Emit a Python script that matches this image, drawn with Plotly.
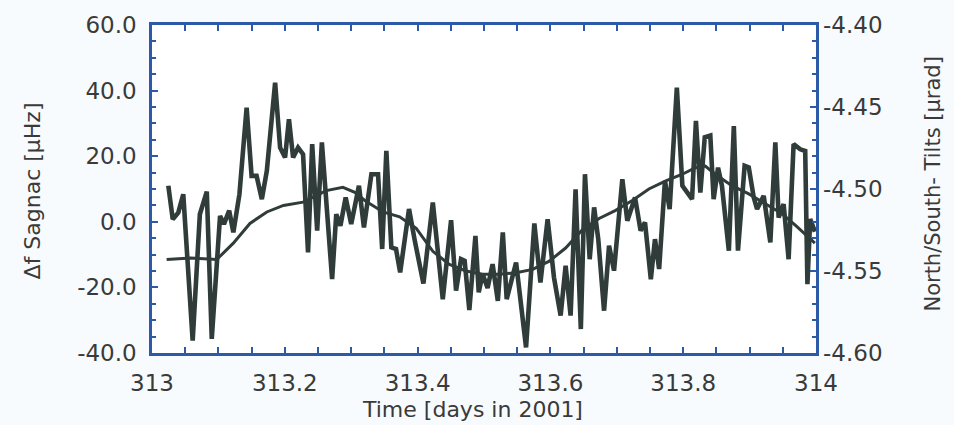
import plotly.graph_objects as go

# Sagnac frequency residual (µHz) vs time in hours after start of day 313
sagnac_hours = [0.59, 0.75, 0.95, 1.13, 1.47, 1.73, 1.98, 2.16, 2.46, 2.60, 2.79, 2.94,
                3.16, 3.42, 3.60, 3.78, 3.97, 4.15, 4.45, 4.63, 4.81, 4.95, 5.10, 5.28,
                5.46, 5.64, 5.79, 5.97, 6.14, 6.51, 6.66, 6.81, 7.00, 7.20, 7.48, 7.66,
                7.93, 8.17, 8.32, 8.47, 8.65, 8.82, 8.97, 9.29, 9.50, 9.81, 10.15, 10.51,
                10.81, 10.99, 11.17, 11.30, 11.47, 11.69, 11.81, 11.95, 12.13, 12.31, 12.50,
                12.68, 12.82, 13.16, 13.52, 13.82, 14.04, 14.30, 14.53, 14.77, 14.95, 15.13,
                15.31, 15.50, 15.65, 15.82, 15.98, 16.13, 16.34, 16.52, 16.70, 17.00, 17.18,
                17.46, 17.66, 17.82, 18.03, 18.18, 18.33, 18.54, 18.71, 18.97, 19.17, 19.34,
                19.52, 19.66, 19.82, 19.98, 20.18, 20.30, 20.46, 20.60, 20.85, 21.03, 21.18,
                21.42, 21.57, 21.75, 21.87, 22.11, 22.35, 22.53, 22.65, 22.83, 23.01, 23.19,
                23.43, 23.61, 23.69, 23.79, 23.96]
sagnac_uhz = [11.0, 0.8, 2.8, 8.4, -36.2, 2.3, 9.2, -35.7, 1.8, -0.7, 3.4, -3.2,
              8.4, 34.8, 14.0, 14.0, 6.9, 15.5, 42.4, 22.6, 19.6, 31.3, 19.6, 22.6,
              20.6, -9.3, 23.7, -2.7, 24.2, -17.5, 2.3, -1.2, 7.4, -0.7, 11.0, -1.7,
              14.5, 14.5, -8.3, 21.6, -7.8, -8.3, -15.4, 3.9, -5.8, -18.8, 5.9, -23.6,
              0.5, -21.0, -11.4, -11.9, -26.9, -4.3, -21.5, -15.9, -20.2, -12.9, -24.1,
              -3.2, -23.6, -12.4, -38.3, -0.5, -18.5, 0.8, -17.0, -28.6, -13.4, -28.6,
              9.9, -32.7, 14.5, -11.4, 4.4, -5.3, -27.1, -7.3, -14.9, 13.0, 0.3,
              7.4, -2.7, -0.2, -17.5, -5.3, -14.4, 12.5, 3.9, 40.9, 11.0, 8.9,
              6.9, 30.8, 8.9, 25.8, 26.3, 6.9, 16.5, 11.0, -8.8, 29.2, -8.8,
              17.1, 16.6, 7.4, 3.9, 7.9, -6.3, 24.2, 1.3, 5.4, -11.4, 23.7,
              22.1, 21.6, -19.0, 0.8, -3.0]

# North/South tilt (µrad), smooth curve
tilt_hours = [0.53, 1.40, 2.34, 2.94, 3.54, 4.15, 4.75, 5.46, 6.30, 6.90, 7.33, 7.69, 8.35,
              8.95, 9.55, 10.15, 10.75, 11.35, 11.95, 12.55, 13.16, 13.76, 14.36, 14.95,
              15.55, 16.16, 16.76, 17.36, 17.96, 18.57, 19.17, 19.64, 20.00, 20.36, 20.96,
              21.57, 22.17, 22.77, 23.25, 23.74, 23.96]
tilt_urad = [-4.543, -4.542, -4.543, -4.533, -4.521, -4.514, -4.510, -4.508, -4.501, -4.499,
             -4.502, -4.507, -4.514, -4.517, -4.524, -4.538, -4.546, -4.550, -4.552,
             -4.552, -4.551, -4.549, -4.544, -4.536, -4.525, -4.518, -4.513, -4.507,
             -4.500, -4.495, -4.491, -4.487, -4.486, -4.491, -4.498, -4.503, -4.509,
             -4.515, -4.522, -4.530, -4.533]

day_start = 313
x_ticks = [313, 313.2, 313.4, 313.6, 313.8, 314]
x_ticktext = ["313", "313.2", "313.4", "313.6", "313.8", "314"]
y_ticks = [-40, -20, 0, 20, 40, 60]
y_ticktext = ["-40.0", "-20.0", "0.0", "20.0", "40.0", "60.0"]
y2_ticks = [-4.60, -4.55, -4.50, -4.45, -4.40]
y2_ticktext = ["-4.60", "-4.55", "-4.50", "-4.45", "-4.40"]

t_sagnac = [day_start + h / 24 for h in sagnac_hours]
t_tilt = [day_start + h / 24 for h in tilt_hours]

BLUE = "#2c5aa6"
LINE = "#2f3c39"
TXT = "#3a3a3a"
FONT = "DejaVu Sans"

fig = go.Figure()
fig.add_trace(go.Scatter(x=t_sagnac, y=sagnac_uhz, mode="lines",
                         line=dict(color=LINE, width=4.6), yaxis="y",
                         showlegend=False))
fig.add_trace(go.Scatter(x=t_tilt, y=tilt_urad, mode="lines",
                         line=dict(color=LINE, width=3.0), yaxis="y2",
                         showlegend=False))

fig.update_layout(
    width=954, height=425,
    margin=dict(l=152, r=138, t=22, b=72),
    paper_bgcolor="#f8fbfd",
    plot_bgcolor="#ffffff",
    font=dict(family=FONT, size=23, color=TXT),
    xaxis=dict(range=[313, 314], tickmode="array", tickvals=x_ticks, ticktext=x_ticktext,
               ticks="inside", ticklen=6, tickwidth=2, tickcolor=BLUE,
               minor=dict(tick0=313, dtick=0.05, ticks="inside", ticklen=4, tickwidth=1.5,
                          tickcolor=BLUE),
               showline=True, linecolor=BLUE, linewidth=2.5, mirror="allticks",
               showgrid=False, zeroline=False, ticklabelstandoff=8,
               tickfont=dict(size=23, color=TXT)),
    yaxis=dict(range=[-40, 60], tickmode="array", tickvals=y_ticks, ticktext=y_ticktext,
               ticks="inside", ticklen=6, tickwidth=2, tickcolor=BLUE,
               minor=dict(tick0=0, dtick=5, ticks="inside", ticklen=4, tickwidth=1.5,
                          tickcolor=BLUE),
               showline=True, linecolor=BLUE, linewidth=2.5, mirror=True,
               showgrid=False, zeroline=False, ticklabelstandoff=8,
               tickfont=dict(size=23, color=TXT)),
    yaxis2=dict(range=[-4.60, -4.40], overlaying="y", side="right", tickmode="array",
                tickvals=y2_ticks, ticktext=y2_ticktext,
                ticks="inside", ticklen=6, tickwidth=2, tickcolor=BLUE,
                minor=dict(tick0=-4.6, dtick=0.01, ticks="inside", ticklen=4, tickwidth=1.5,
                           tickcolor=BLUE),
                showline=False, showgrid=False, zeroline=False, ticklabelstandoff=6,
                tickfont=dict(size=23, color=TXT)),
    annotations=[
        dict(text="Time [days in 2001]", xref="paper", yref="paper", x=0.482, y=-0.172,
             xanchor="center", yanchor="middle", showarrow=False,
             font=dict(size=22, color=TXT, family=FONT)),
        dict(text="Δf Sagnac [µHz]", xref="paper", yref="paper", x=-0.1807, y=0.4925,
             xanchor="center", yanchor="middle", textangle=-90, showarrow=False,
             font=dict(size=22, color=TXT, family=FONT)),
        dict(text="North/South- Tilts [µrad]", xref="paper", yref="paper", x=1.1762, y=0.5166,
             xanchor="center", yanchor="middle", textangle=-90, showarrow=False,
             font=dict(size=21, color=TXT, family=FONT)),
    ],
)

fig.write_html("out.html", config={"displayModeBar": False},
               post_script="document.body.style.margin='0';document.body.style.padding='0';")
